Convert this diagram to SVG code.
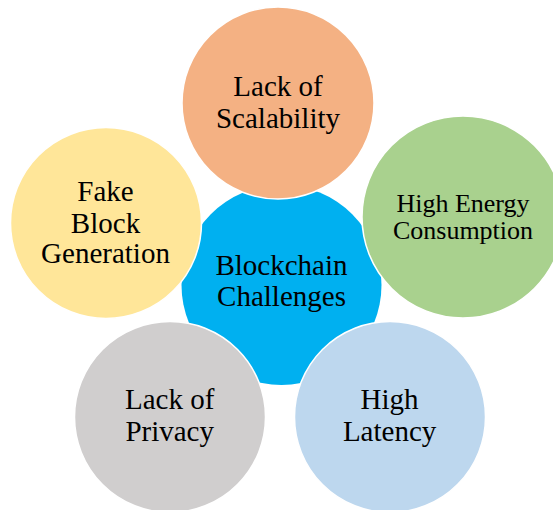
<svg xmlns="http://www.w3.org/2000/svg" width="553" height="510" viewBox="0 0 553 510">
<style>
.n{stroke:#FFFFFF;stroke-width:1.5}
.t{font-family:"Liberation Serif","Times New Roman",serif;font-size:29px;fill:#000000;text-anchor:middle}
.s{font-size:26px}
</style>
<rect width="553" height="510" fill="#FFFFFF"/>
<g id="connectors"></g>
<g id="center">
<circle cx="281.5" cy="285" r="100" fill="#00B0F0"/>
<text class="t" x="281.5" y="275">Blockchain</text>
<text class="t" x="281.5" y="306">Challenges</text>
</g>
<g id="scalability">
<circle class="n" cx="278" cy="103" r="96" fill="#F4B183"/>
<text class="t" x="278" y="96">Lack of</text>
<text class="t" x="278" y="127.5">Scalability</text>
</g>
<g id="energy">
<circle class="n" cx="463" cy="217" r="101" fill="#A9D18E"/>
<text class="t s" x="463" y="211.5">High Energy</text>
<text class="t s" x="463" y="239.3">Consumption</text>
</g>
<g id="latency">
<circle class="n" cx="390" cy="417" r="95.5" fill="#BDD7EE"/>
<text class="t" x="389.6" y="409.3">High</text>
<text class="t" x="389.6" y="440.7">Latency</text>
</g>
<g id="privacy">
<circle class="n" cx="170" cy="417" r="95.5" fill="#D0CECE"/>
<text class="t" x="169.7" y="409.3">Lack of</text>
<text class="t" x="169.7" y="440.7">Privacy</text>
</g>
<g id="fakeblock">
<circle class="n" cx="106" cy="223" r="95.5" fill="#FFE699"/>
<text class="t" x="105.5" y="201">Fake</text>
<text class="t" x="105.5" y="232.5">Block</text>
<text class="t" x="105.5" y="263.3">Generation</text>
</g>
</svg>
